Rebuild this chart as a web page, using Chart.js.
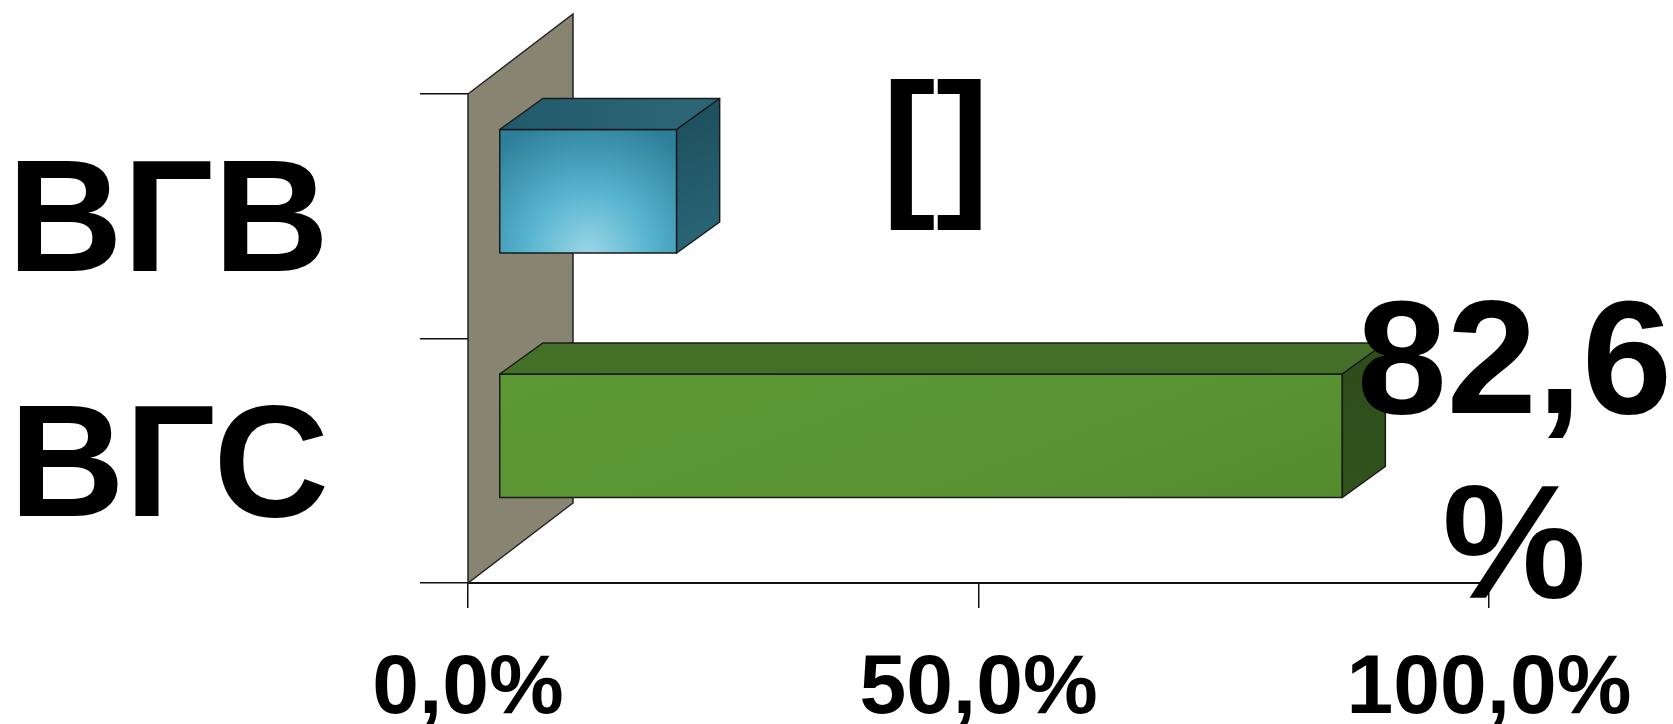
<!DOCTYPE html>
<html>
<head>
<meta charset="utf-8">
<script src="https://cdn.jsdelivr.net/npm/chart.js@4.4.0/dist/chart.umd.min.js"></script>
<style>
  html, body { margin: 0; padding: 0; background: #fff; }
  #chart { display: block; }
</style>
</head>
<body>
<canvas id="chart" width="1673" height="724"></canvas>
<script>
// chart data
const categories = ['ВГВ', 'ВГС'];
const shares = [17.4, 82.6];
const barLabels = ['[]', '82,6\n%'];
const xTickValues = [0, 50, 100];

const FONT = '"Liberation Sans", Arial, sans-serif';

// 3d look: where the bars sit in depth and how deep they are
const bar3d = {
    shift: { x: 31, y: -25 },
    depth: { x: 43, y: -31 },
    faces: [
        { front: ['#9ad6e6', '#57b4cf', '#2d7f99'], top: ['#215a6b', '#2c6676'], side: ['#1f5260', '#2b6879'] },
        { front: ['#5c9834', '#5a9433', '#4c8529'], top: ['#436f27', '#446f28'], side: ['#2e4d1b', '#31531d'] }
    ],
    wall: { depth: { x: 105, y: -80 }, color: '#878572' },
    labelPos: [ { dx: 290, dy: [-65] }, { dx: 203, dy: [-92, 93] } ]
};

const fake3d = {
    id: 'fake3d',
    beforeDatasetsDraw(chart) {
        const ctx = chart.ctx;
        const a = chart.chartArea;
        const w = bar3d.wall.depth;
        ctx.save();
        ctx.beginPath();
        ctx.moveTo(a.left, a.top);
        ctx.lineTo(a.left + w.x, a.top + w.y);
        ctx.lineTo(a.left + w.x, a.bottom + w.y);
        ctx.lineTo(a.left, a.bottom);
        ctx.closePath();
        ctx.fillStyle = bar3d.wall.color;
        ctx.fill();
        ctx.lineWidth = 1.5;
        ctx.strokeStyle = '#222';
        ctx.stroke();
        ctx.restore();

        // bars are drawn by chart.js, pushed back a bit in depth
        ctx.save();
        ctx.translate(bar3d.shift.x, bar3d.shift.y);
    },
    afterDatasetsDraw(chart) {
        const ctx = chart.ctx;
        ctx.restore();

        const meta = chart.getDatasetMeta(0);
        const d = bar3d.depth;
        meta.data.forEach((el, i) => {
            const f = bar3d.faces[i];
            const x0 = el.base + bar3d.shift.x;
            const x1 = el.x + bar3d.shift.x;
            const top = el.y - el.height / 2 + bar3d.shift.y;
            const bot = el.y + el.height / 2 + bar3d.shift.y;

            ctx.save();
            ctx.lineWidth = 1.5;
            ctx.strokeStyle = '#1a1a1a';
            ctx.lineJoin = 'round';

            // front face shading
            let g;
            if (i === 0) {
                g = ctx.createRadialGradient((x0 + x1) / 2, bot, 0, (x0 + x1) / 2, bot, (x1 - x0) * 0.78);
            } else {
                g = ctx.createLinearGradient(x0, top, x0 + 200, bot + 400);
            }
            g.addColorStop(0, f.front[0]);
            g.addColorStop(0.45, f.front[1]);
            g.addColorStop(1, f.front[2]);
            ctx.fillStyle = g;
            ctx.fillRect(x0, top, x1 - x0, bot - top);
            ctx.strokeRect(x0, top, x1 - x0, bot - top);

            // top face
            g = ctx.createLinearGradient(x0, top, x1, top);
            g.addColorStop(0, f.top[0]);
            g.addColorStop(1, f.top[1]);
            ctx.beginPath();
            ctx.moveTo(x0, top);
            ctx.lineTo(x0 + d.x, top + d.y);
            ctx.lineTo(x1 + d.x, top + d.y);
            ctx.lineTo(x1, top);
            ctx.closePath();
            ctx.fillStyle = g;
            ctx.fill();
            ctx.stroke();

            // right face
            g = ctx.createLinearGradient(x1, top, x1 + d.x, bot);
            g.addColorStop(0, f.side[0]);
            g.addColorStop(1, f.side[1]);
            ctx.beginPath();
            ctx.moveTo(x1, top);
            ctx.lineTo(x1 + d.x, top + d.y);
            ctx.lineTo(x1 + d.x, bot + d.y);
            ctx.lineTo(x1, bot);
            ctx.closePath();
            ctx.fillStyle = g;
            ctx.fill();
            ctx.stroke();
            ctx.restore();
        });
    },
    afterDraw(chart) {
        // value labels
        const ctx = chart.ctx;
        const meta = chart.getDatasetMeta(0);
        ctx.save();
        ctx.fillStyle = '#000';
        ctx.font = 'bold 162px ' + FONT;
        ctx.textAlign = 'center';
        ctx.textBaseline = 'middle';
        meta.data.forEach((el, i) => {
            const pos = bar3d.labelPos[i];
            barLabels[i].split('\n').forEach((line, k) => {
                ctx.fillText(line, el.x + pos.dx, el.y + pos.dy[k]);
            });
        });
        ctx.restore();
    }
};

new Chart(document.getElementById('chart'), {
    type: 'bar',
    data: {
        labels: categories,
        datasets: [{
            data: shares,
            backgroundColor: ['#57b4cf', '#5a9433'],
            borderColor: '#1a1a1a',
            borderWidth: 1.5,
            categoryPercentage: 1,
            barPercentage: 0.505
        }]
    },
    options: {
        indexAxis: 'y',
        responsive: false,
        animation: false,
        devicePixelRatio: 1,
        layout: { padding: { top: 94, right: 184, left: 0, bottom: 0 } },
        plugins: {
            legend: { display: false },
            tooltip: { enabled: false }
        },
        scales: {
            x: {
                min: 0,
                max: 100,
                afterBuildTicks: s => { s.ticks = xTickValues.map(v => ({ value: v })); },
                afterFit: s => { s.height = 141; s.paddingLeft = 0; s.paddingRight = 0; },
                ticks: {
                    callback: v => v.toFixed(1).replace('.', ',') + '%',
                    font: { family: FONT, weight: 'bold', size: 84 },
                    color: '#000',
                    padding: 31,
                    maxRotation: 0,
                    autoSkip: false
                },
                grid: { drawOnChartArea: false, tickLength: 25, color: '#111', lineWidth: 1.5 },
                border: { display: true, color: '#111', width: 2 }
            },
            y: {
                offset: true,
                afterFit: s => { s.width = 468; s.paddingTop = 0; s.paddingBottom = 0; },
                ticks: {
                    font: { family: FONT, weight: 'bold', size: 160 },
                    color: '#000',
                    padding: 91,
                    labelOffset: 11
                },
                grid: { offset: true, drawOnChartArea: false, tickLength: 48, color: '#111', lineWidth: 1.5 },
                border: { display: false }
            }
        }
    },
    plugins: [fake3d]
});
</script>
</body>
</html>
